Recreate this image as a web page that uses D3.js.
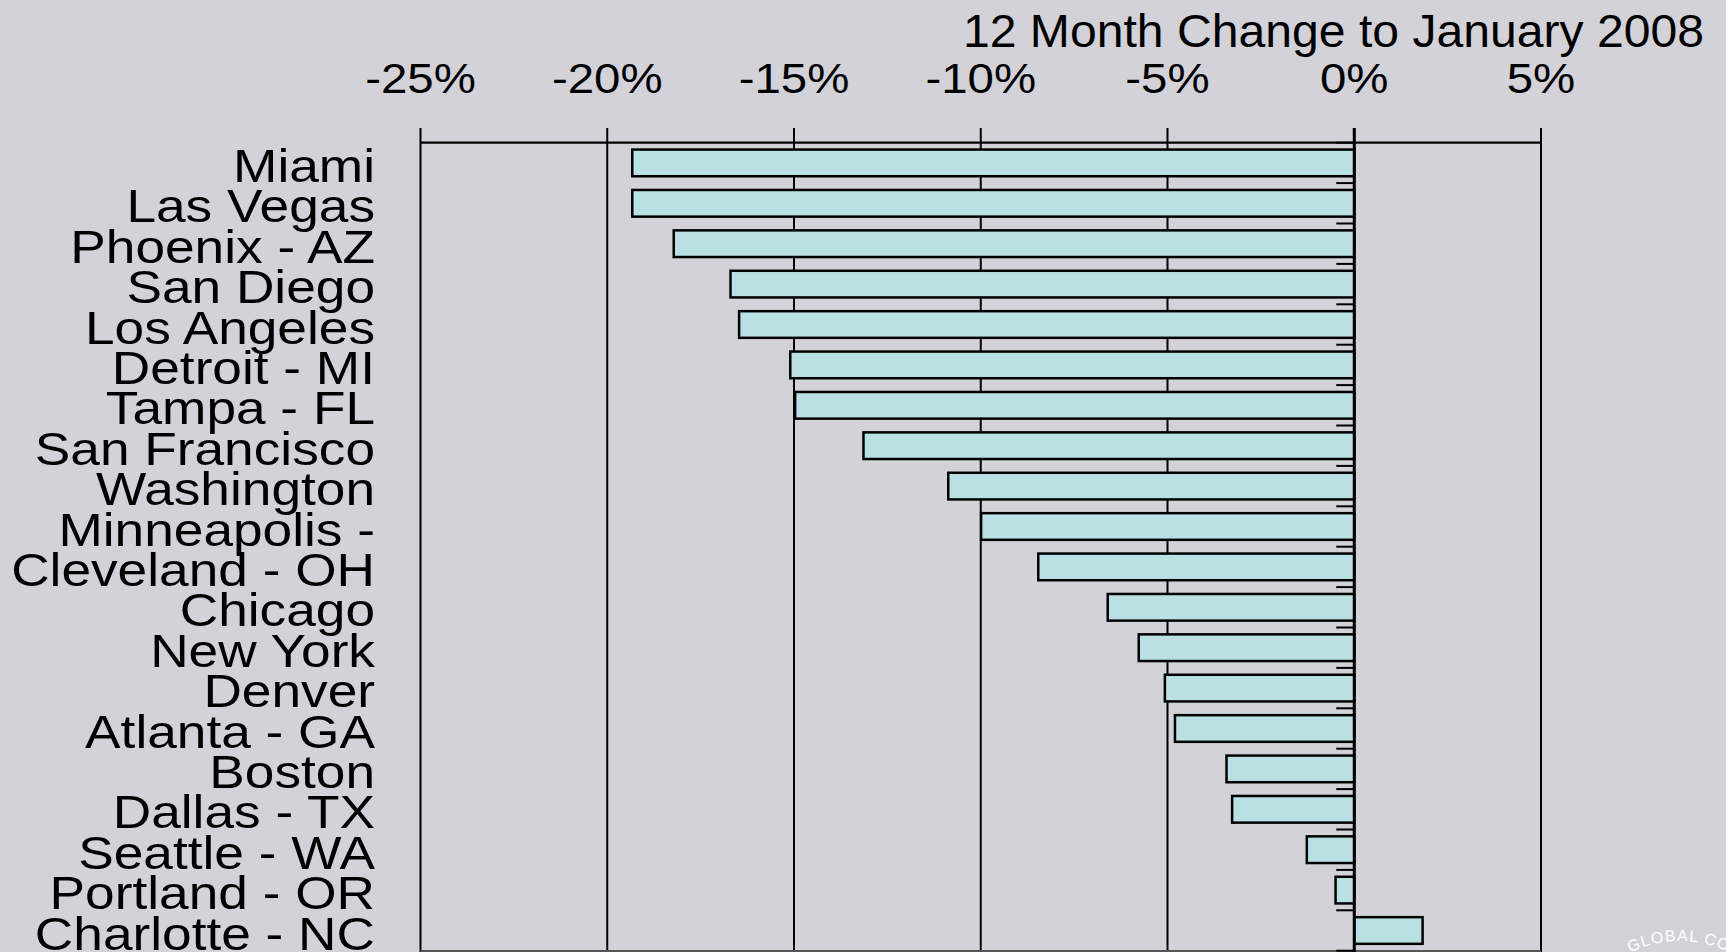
<!DOCTYPE html>
<html>
<head>
<meta charset="utf-8">
<script src="https://cdn.jsdelivr.net/npm/d3@7"></script>
<style>
  body { margin: 0; background: #d3d2d9; overflow: hidden; }
  text { font-family: "Liberation Sans", Arial, sans-serif; fill: #000; }
</style>
</head>
<body>
<div id="chart"></div>
<script>
// data
var cities = ["Miami", "Las Vegas", "Phoenix - AZ", "San Diego", "Los Angeles",
  "Detroit - MI", "Tampa - FL", "San Francisco", "Washington", "Minneapolis -",
  "Cleveland - OH", "Chicago", "New York", "Denver", "Atlanta - GA",
  "Boston", "Dallas - TX", "Seattle - WA", "Portland - OR", "Charlotte - NC"];
var changes = [-19.33, -19.33, -18.22, -16.7, -16.47,
  -15.1, -14.97, -13.14, -10.87, -9.99,
  -8.46, -6.6, -5.77, -5.07, -4.8,
  -3.42, -3.27, -1.27, -0.5, 1.83];
var xTicks = [-25, -20, -15, -10, -5, 0, 5];
var title = "12 Month Change to January 2008";

var width = 1726, height = 952;

var svg = d3.select("#chart").append("svg")
  .attr("width", width)
  .attr("height", height);

svg.append("rect").attr("width", width).attr("height", height).attr("fill", "#d3d2d9");

var x = d3.scaleLinear()
  .domain([-25, 5])
  .range([420.5, 1541]);

var y = d3.scaleBand()
  .domain(cities)
  .range([142.7, 950.7])
  .paddingInner(0.34)
  .paddingOuter(0.17);

var step = y.step();

// title
svg.append("text")
  .attr("transform", "translate(1704,46.5) scale(1.035,1)")
  .attr("text-anchor", "end")
  .style("font-size", "46.5px")
  .text(title);

// tick labels
svg.selectAll("text.tick")
  .data(xTicks)
  .enter().append("text")
  .attr("class", "tick")
  .attr("transform", d => "translate(" + x(d) + ",93) scale(1.13,1)")
  .attr("text-anchor", "middle")
  .style("font-size", "42px")
  .text(d => d + "%");

// grid lines
svg.selectAll("line.grid")
  .data(xTicks)
  .enter().append("line")
  .attr("class", "grid")
  .attr("x1", d => x(d)).attr("x2", d => x(d))
  .attr("y1", 128).attr("y2", height)
  .attr("stroke", "#000")
  .attr("stroke-width", 2);

svg.append("line")
  .attr("x1", x(-25)).attr("x2", x(5))
  .attr("y1", y.range()[0]).attr("y2", y.range()[0])
  .attr("stroke", "#000").attr("stroke-width", 2.2);

svg.append("line")
  .attr("x1", x(-25)).attr("x2", x(5))
  .attr("y1", 951).attr("y2", 951)
  .attr("stroke", "#555").attr("stroke-width", 2);

// city labels
svg.selectAll("text.city")
  .data(cities)
  .enter().append("text")
  .attr("class", "city")
  .attr("transform", d => "translate(375," + (y(d) + y.bandwidth() / 2 + 19) + ") scale(1.145,1)")
  .attr("text-anchor", "end")
  .style("font-size", "46.5px")
  .text(d => d);

// bars
svg.selectAll("rect.bar")
  .data(changes)
  .enter().append("rect")
  .attr("class", "bar")
  .attr("x", d => x(Math.min(0, d)))
  .attr("width", d => Math.abs(x(d) - x(0)))
  .attr("y", (d, i) => y(cities[i]))
  .attr("height", y.bandwidth())
  .attr("fill", "#b9e0e3")
  .attr("stroke", "#000")
  .attr("stroke-width", 2.5);

// zero line and its small ticks
svg.append("line")
  .attr("x1", x(0)).attr("x2", x(0))
  .attr("y1", 128).attr("y2", height)
  .attr("stroke", "#000").attr("stroke-width", 3);

svg.selectAll("line.ztick")
  .data(d3.range(cities.length + 1))
  .enter().append("line")
  .attr("class", "ztick")
  .attr("x1", x(0) - 18).attr("x2", x(0))
  .attr("y1", k => y.range()[0] + k * step)
  .attr("y2", k => y.range()[0] + k * step)
  .attr("stroke", "#000").attr("stroke-width", 2);

// faint watermark in the corner
var wm = svg.append("g");
wm.append("path")
  .attr("id", "wmarc")
  .attr("d", d3.arc()({innerRadius: 112, outerRadius: 112, startAngle: -0.46, endAngle: 1.2}))
  .attr("transform", "translate(1680,1053)")
  .attr("fill", "none");
wm.append("text")
  .style("font-size", "16px")
  .style("fill", "#fff")
  .style("letter-spacing", "1px")
  .append("textPath")
  .attr("href", "#wmarc")
  .text("GLOBAL CONCEPTS");
</script>
</body>
</html>
